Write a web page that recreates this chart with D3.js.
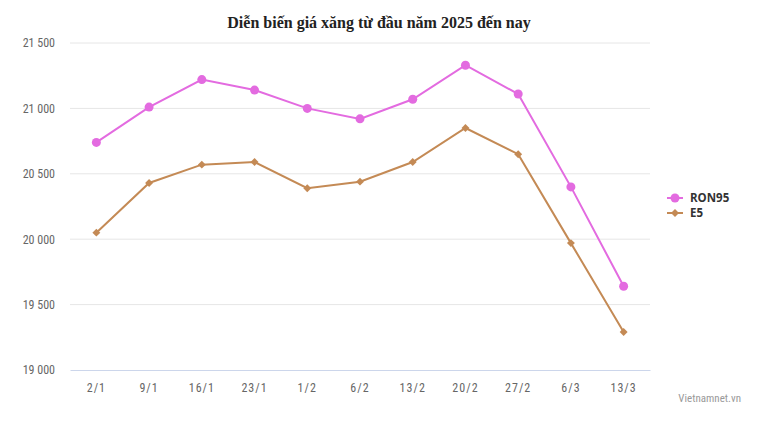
<!DOCTYPE html>
<html><head><meta charset="utf-8">
<script src="https://cdn.jsdelivr.net/npm/d3@7"></script>
<style>body{margin:0;background:#fff;} svg{display:block;}</style>
</head><body>
<svg id="c" width="757" height="422"></svg>
<script>
const categories = ["2/1","9/1","16/1","23/1","1/2","6/2","13/2","20/2","27/2","6/3","13/3"];
const ron95 = [20740,21010,21220,21140,21000,20920,21070,21330,21110,20400,19640];
const e5 = [20050,20430,20570,20590,20390,20440,20590,20850,20650,19970,19290];
const yTicks = [19000,19500,20000,20500,21000,21500];
const seriesNames = ["RON95","E5"];

const svg = d3.select("#c");
const W=757,H=422;
const m={left:70,right:107,top:43,bottom:52};
const x = d3.scaleBand().domain(categories).range([m.left, W-m.right]);
const y = d3.scaleLinear().domain([19000,21500]).range([H-m.bottom, m.top]);
const fmt = v => d3.format(",")(v).replace(/,/g," ");

svg.append("text").attr("x",379).attr("y",28).attr("text-anchor","middle")
  .style("font-family","'Liberation Serif','Times New Roman',serif").style("font-weight","bold")
  .style("font-size","16px").attr("fill","#222").text("Diễn biến giá xăng từ đầu năm 2025 đến nay");

const grid = svg.append("g");
yTicks.forEach(t=>{
  if(t!==19000) grid.append("line").attr("x1",m.left).attr("x2",W-m.right).attr("y1",y(t)).attr("y2",y(t)).attr("stroke","#e6e6e6").attr("stroke-width",1);
});
const yAxis = svg.append("g").attr("transform",`translate(${m.left},0)`)
  .call(d3.axisLeft(y).tickValues(yTicks).tickFormat(fmt).tickSize(0).tickPadding(15));
yAxis.select(".domain").remove();
yAxis.selectAll("text").style("font-family","'Liberation Sans Narrow','Roboto Condensed',Roboto,sans-serif").style("font-size","12px").attr("fill","#666");

const xAxis = svg.append("g").attr("transform",`translate(0,${H-m.bottom})`)
  .call(d3.axisBottom(x).tickSize(0).tickPadding(13));
xAxis.select(".domain").attr("stroke","#ccd6eb");
xAxis.selectAll("text").style("font-family","'Liberation Sans Narrow','Roboto Condensed',Roboto,sans-serif").style("font-size","12px").attr("fill","#666").style("letter-spacing","1px");

const cx = d => x(d)+x.bandwidth()/2;
const colors = ["#e36be0","#c48a55"];
const data = [ron95,e5];
const line = d3.line().x((d,i)=>cx(categories[i])).y(d=>y(d));
const diamond = d3.symbol(d3.symbolDiamond2 || d3.symbolDiamond, 40);
data.forEach((s,k)=>{
  svg.append("path").datum(s).attr("d",line).attr("fill","none").attr("stroke",colors[k]).attr("stroke-width",2);
  if(k===0){
    svg.append("g").selectAll("circle").data(s).join("circle")
      .attr("cx",(d,i)=>cx(categories[i])).attr("cy",d=>y(d)).attr("r",4.5).attr("fill",colors[k]);
  } else {
    svg.append("g").selectAll("path").data(s).join("path")
      .attr("d",diamond)
      .attr("transform",(d,i)=>`translate(${cx(categories[i])},${y(d)})`)
      .attr("fill",colors[k]);
  }
});

// legend
const lg = svg.append("g");
seriesNames.forEach((n,k)=>{
  const ly = 198 + k*15;
  lg.append("line").attr("x1",667).attr("x2",683).attr("y1",ly).attr("y2",ly).attr("stroke",colors[k]).attr("stroke-width",2);
  if(k===0) lg.append("circle").attr("cx",675).attr("cy",ly).attr("r",4.5).attr("fill",colors[k]);
  else lg.append("path").attr("d",diamond).attr("transform",`translate(675,${ly})`).attr("fill",colors[k]);
  lg.append("text").attr("x",690).attr("y",ly+4).text(n)
    .style("font-family","'Open Sans','Liberation Sans',sans-serif").style("font-weight","bold").style("font-size","11.5px").attr("fill","#333");
});

svg.append("text").attr("x",741).attr("y",402).attr("text-anchor","end").text("Vietnamnet.vn")
  .style("font-family","'Liberation Sans Narrow','Roboto Condensed',Roboto,sans-serif").style("font-size","11px").attr("fill","#999");
</script>
</body></html>
